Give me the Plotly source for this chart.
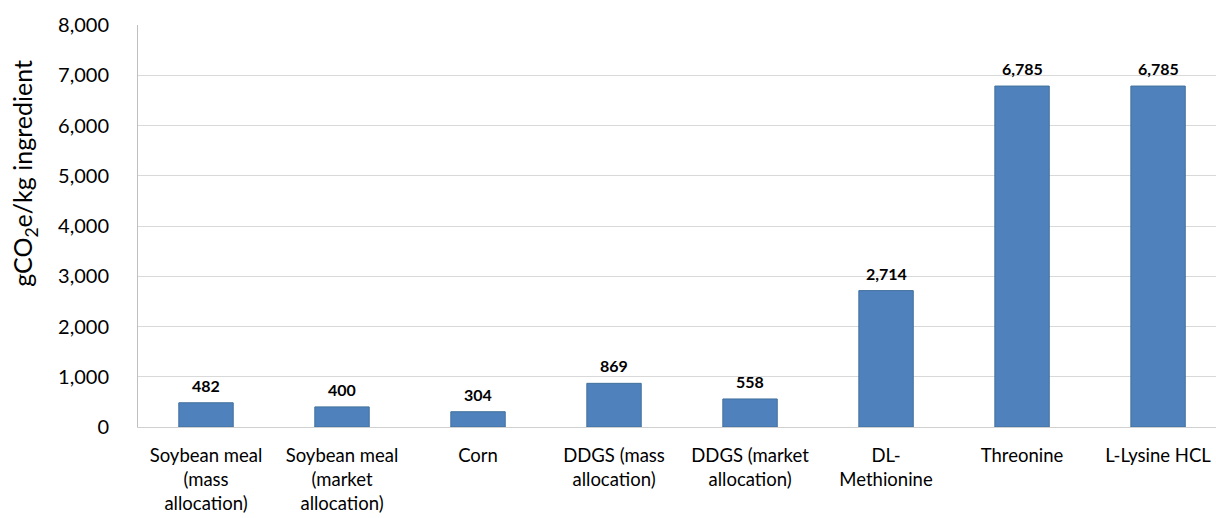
import plotly.graph_objects as go

categories = [
    "Soybean meal<br>(mass<br>allocation)",
    "Soybean meal<br>(market<br>allocation)",
    "Corn",
    "DDGS (mass<br>allocation)",
    "DDGS (market<br>allocation)",
    "DL-<br>Methionine",
    "Threonine",
    "L-Lysine HCL",
]
values = [482, 400, 304, 869, 558, 2714, 6785, 6785]
y_ticks = [0, 1000, 2000, 3000, 4000, 5000, 6000, 7000, 8000]

FONT = "Lato, 'Open Sans', sans-serif"

fig = go.Figure()

fig.add_trace(go.Bar(
    x=list(range(len(categories))),
    y=values,
    width=0.4,
    marker=dict(color="#4F81BD", line=dict(color="#41719C", width=1)),
    hoverinfo="y",
))

# value labels sitting a little above each bar
for i, v in enumerate(values):
    fig.add_annotation(
        x=i, y=v, xref="x", yref="y",
        text=f"<b>{v:,}</b>",
        showarrow=False,
        yanchor="bottom",
        yshift=6,
        font=dict(family=FONT, size=16, color="#000000"),
    )

# y axis title (placed like the original, above the plot centre)
fig.add_annotation(
    x=0, y=0.63, xref="paper", yref="paper",
    text="gCO<sub>2</sub>e/kg ingredient",
    textangle=-90,
    showarrow=False,
    xanchor="center", yanchor="middle",
    xshift=-114,
    font=dict(family=FONT, size=25, color="#000000"),
)

fig.update_xaxes(
    tickmode="array",
    tickvals=list(range(len(categories))),
    ticktext=categories,
    range=[-0.5, 7.426],
    showgrid=False,
    showline=True,
    linecolor="#D0D0D0",
    linewidth=1,
    ticks="",
    ticklabelstandoff=12,
    ticklabeloverflow="allow",
    tickfont=dict(family=FONT, size=18.5, color="#000000"),
    tickangle=0,
    automargin=False,
)

fig.update_yaxes(
    range=[0, 8000],
    tickvals=y_ticks,
    tickformat=",",
    showgrid=True,
    gridcolor="#D9D9D9",
    gridwidth=1,
    showline=True,
    linecolor="#BFBFBF",
    linewidth=1,
    zeroline=False,
    ticks="",
    ticklabelstandoff=24,
    tickfont=dict(family=FONT, size=20, color="#000000"),
    automargin=False,
)

fig.update_layout(
    width=1216,
    height=518,
    margin=dict(l=138, r=0, t=25, b=91),
    plot_bgcolor="#FFFFFF",
    paper_bgcolor="#FFFFFF",
    showlegend=False,
)

fig.write_html(
    "out.html",
    config={"displayModeBar": False},
    post_script="document.body.style.margin='0';",
)
